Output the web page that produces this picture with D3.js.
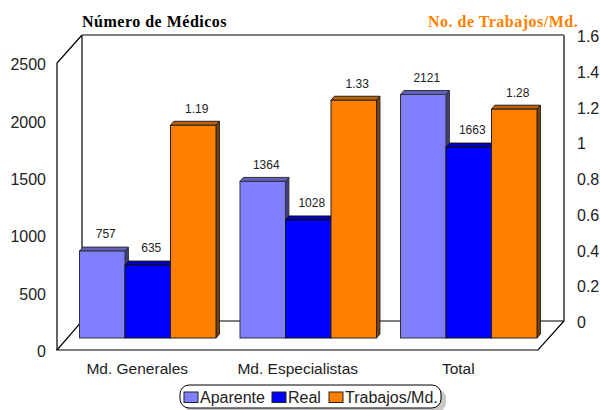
<!DOCTYPE html>
<html><head><meta charset="utf-8">
<style>html,body{margin:0;padding:0;background:#fff}svg{display:block}text{font-family:"Liberation Sans",Arial,sans-serif;fill:#222}</style>
<script src="https://cdn.jsdelivr.net/npm/d3@7"></script></head>
<body><svg id="c" width="600" height="410"></svg>
<script>
const categories=["Md. Generales","Md. Especialistas","Total"];
const aparente=[757,1364,2121];
const real=[635,1028,1663];
const trabajos=[1.19,1.33,1.28];
const leftTicks=[0,500,1000,1500,2000,2500];
const rightTicks=[0,0.2,0.4,0.6,0.8,1,1.2,1.4,1.6];
const seriesNames=["Aparente","Real","Trabajos/Md."];

const svg=d3.select("#c");
const yFront=d3.scaleLinear().domain([0,2500]).range([350,63]);
const yBack=d3.scaleLinear().domain([0,1.6]).range([321,35]);
const xGroup=d3.scaleBand().domain(categories).range([67.5,549]);
const barW=45.5, dx=3.4, dy=4, barBase=338;
const hL=d3.scaleLinear().domain([0,2500]).range([0,287]);
const hR=d3.scaleLinear().domain([0,1.6]).range([0,286]);

// walls
const wall=svg.append("g").attr("fill","none").attr("stroke","#000").attr("stroke-width",1.2);
const line=d3.line();
wall.append("path").attr("d",line([[82,321],[82,35]]));
wall.append("path").attr("d",line([[564,35],[564,321],[538,350],[57,350],[82,321],[564,321]]));
wall.append("path").attr("d",line([[57,350],[57,63],[82,35]]));
svg.append("path").attr("d",line([[82,35],[564,35]])).attr("stroke","#808080").attr("stroke-width",2).attr("fill","none");

// axes
const axL=svg.append("g").attr("transform","translate(46,0)").call(d3.axisLeft(yFront).tickValues(leftTicks).tickSize(0).tickPadding(0).tickFormat(d3.format("d")));
const axR=svg.append("g").attr("transform","translate(577,0)").call(d3.axisRight(yBack).tickValues(rightTicks).tickSize(0).tickPadding(0).tickFormat(d=>String(d)));
[axL,axR].forEach(a=>{a.select(".domain").remove();a.attr("font-family",null).attr("font-size",null);a.selectAll("text").attr("font-size",16).attr("dy","0.42em");});

const styles=[
 {f:"#8080ff",t:"#6060c0",s:"#404080",e:"#333"},
 {f:"#0000ff",t:"#0000c0",s:"#000080",e:"#111"},
 {f:"#ff8000",t:"#bf6000",s:"#804000",e:"#222"}];
const series=[
 {vals:aparente,h:hL,fmt:d=>String(d)},
 {vals:real,h:hL,fmt:d=>String(d)},
 {vals:trabajos,h:hR,fmt:d=>d3.format(".2f")(d)}];

categories.forEach((c,ci)=>{
 const x0=xGroup(c)+(xGroup.bandwidth()-3*barW)/2;
 series.forEach((se,si)=>{
  const g=svg.append("g"), st=styles[si], v=se.vals[ci];
  const x=x0+si*barW, h=se.h(v), top=barBase-h;
  g.append("path").attr("d",line([[x+barW,top],[x+barW+dx,top-dy],[x+barW+dx,barBase-dy],[x+barW,barBase]])+"Z").attr("fill",st.s).attr("stroke",st.e).attr("stroke-width",1);
  g.append("path").attr("d",line([[x,top],[x+dx,top-dy],[x+barW+dx,top-dy],[x+barW,top]])+"Z").attr("fill",st.t).attr("stroke",st.e).attr("stroke-width",1);
  g.append("rect").attr("x",x).attr("y",top).attr("width",barW).attr("height",h).attr("fill",st.f).attr("stroke",st.e).attr("stroke-width",1);
 });
});
categories.forEach((c,ci)=>{
 const x0=xGroup(c)+(xGroup.bandwidth()-3*barW)/2;
 series.forEach((se,si)=>{
  const v=se.vals[ci], top=barBase-se.h(v);
  svg.append("text").attr("x",x0+si*barW+barW/2+3.5).attr("y",top-17).attr("dy","0.36em").attr("text-anchor","middle").attr("font-size",12).text(se.fmt(v));
 });
 svg.append("text").attr("x",xGroup(c)+xGroup.bandwidth()/2-10.5).attr("y",368).attr("dy","0.36em").attr("text-anchor","middle").attr("font-size",15.5).text(c);
});

// titles
svg.append("text").attr("x",82).attr("y",27).text("Número de Médicos").style("font-family","'Liberation Serif',serif").attr("font-weight","bold").attr("font-size",16).attr("letter-spacing",0.5).style("fill","#000");
svg.append("text").attr("x",428).attr("y",27).text("No. de Trabajos/Md.").style("font-family","'Liberation Serif',serif").attr("font-weight","bold").attr("font-size",16).attr("letter-spacing",0.5).style("fill","#ff8000");

// legend
svg.append("rect").attr("x",184).attr("y",389).attr("width",262).attr("height",23).attr("rx",9).attr("fill","#c8c8c8");
svg.append("rect").attr("x",180).attr("y",385).attr("width",261).attr("height",23).attr("rx",9).attr("fill","#fff").attr("stroke","#000").attr("stroke-width",1);
const legendX=[184,272,329];
seriesNames.forEach((n,i)=>{
 svg.append("rect").attr("x",legendX[i]).attr("y",392).attr("width",14).attr("height",10.5).attr("fill",styles[i].f).attr("stroke","#222").attr("stroke-width",1);
 svg.append("text").attr("x",legendX[i]+16).attr("y",397).attr("dy","0.36em").attr("font-size",16).text(n);
});
</script></body></html>
